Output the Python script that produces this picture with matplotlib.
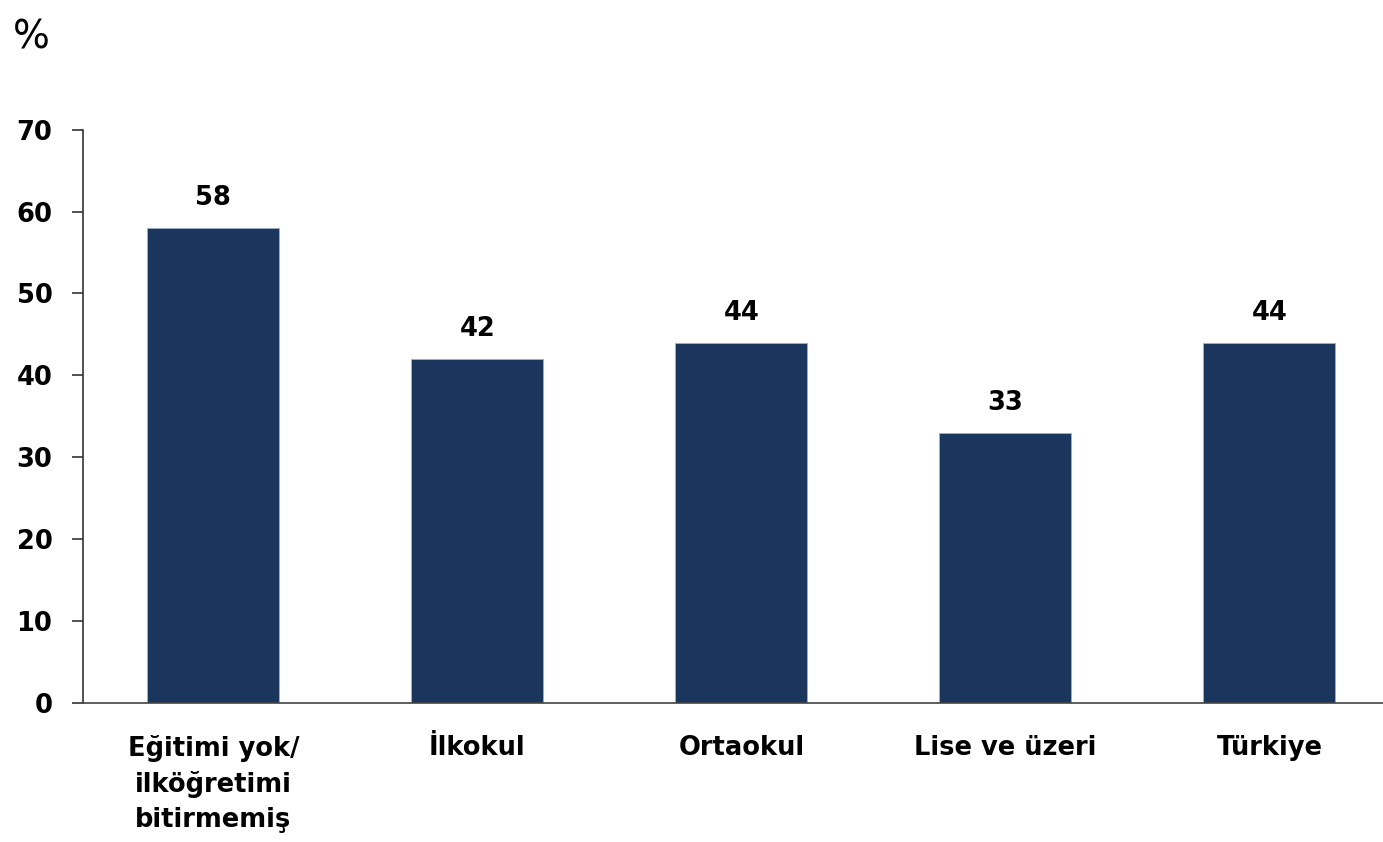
import matplotlib
matplotlib.use('Agg')
import matplotlib.pyplot as plt

# data
categories = ['Eğitimi yok/\nilköğretimi\nbitirmemiş', 'İlkokul', 'Ortaokul',
              'Lise ve üzeri', 'Türkiye']
values = [58, 42, 44, 33, 44]
yticks = [0, 10, 20, 30, 40, 50, 60, 70]

BAR_COLOR = '#1b365d'
FS = 18.5

plt.rcParams['font.family'] = ['DejaVu Sans']
plt.rcParams['font.weight'] = 'bold'

fig = plt.figure(figsize=(13.83, 8.42), dpi=100)
ax = fig.add_axes([0.060, 0.165, 0.940, 0.681])

x = list(range(len(categories)))
bars = ax.bar(x, values, width=0.5, color=BAR_COLOR, edgecolor='#9fb0c8', linewidth=0.6)

for xi, v in zip(x, values):
    ax.annotate(str(v), (xi, v), xytext=(0, 12), textcoords='offset points',
                ha='center', va='bottom', fontsize=FS, fontweight='bold')

ax.set_xlim(-0.494, 4.43)
ax.set_ylim(0, 70)
ax.set_yticks(yticks)
ax.set_xticks(x)
ax.set_xticklabels(categories, fontsize=FS, fontweight='bold', linespacing=1.45)
ax.tick_params(axis='x', length=0, pad=23)
ax.tick_params(axis='y', length=8, width=1.2, pad=14, labelsize=FS, color='#333333')
for lbl in ax.get_yticklabels():
    lbl.set_fontweight('bold')

for side in ['top', 'right']:
    ax.spines[side].set_visible(False)
ax.spines['left'].set_color('#333333')
ax.spines['bottom'].set_color('#444444')
ax.spines['left'].set_linewidth(1.2)
ax.spines['bottom'].set_linewidth(1.2)

fig.text(0.009, 0.978, '%', fontsize=28, fontweight='normal', ha='left', va='top')

fig.savefig('out.png', dpi=100)
